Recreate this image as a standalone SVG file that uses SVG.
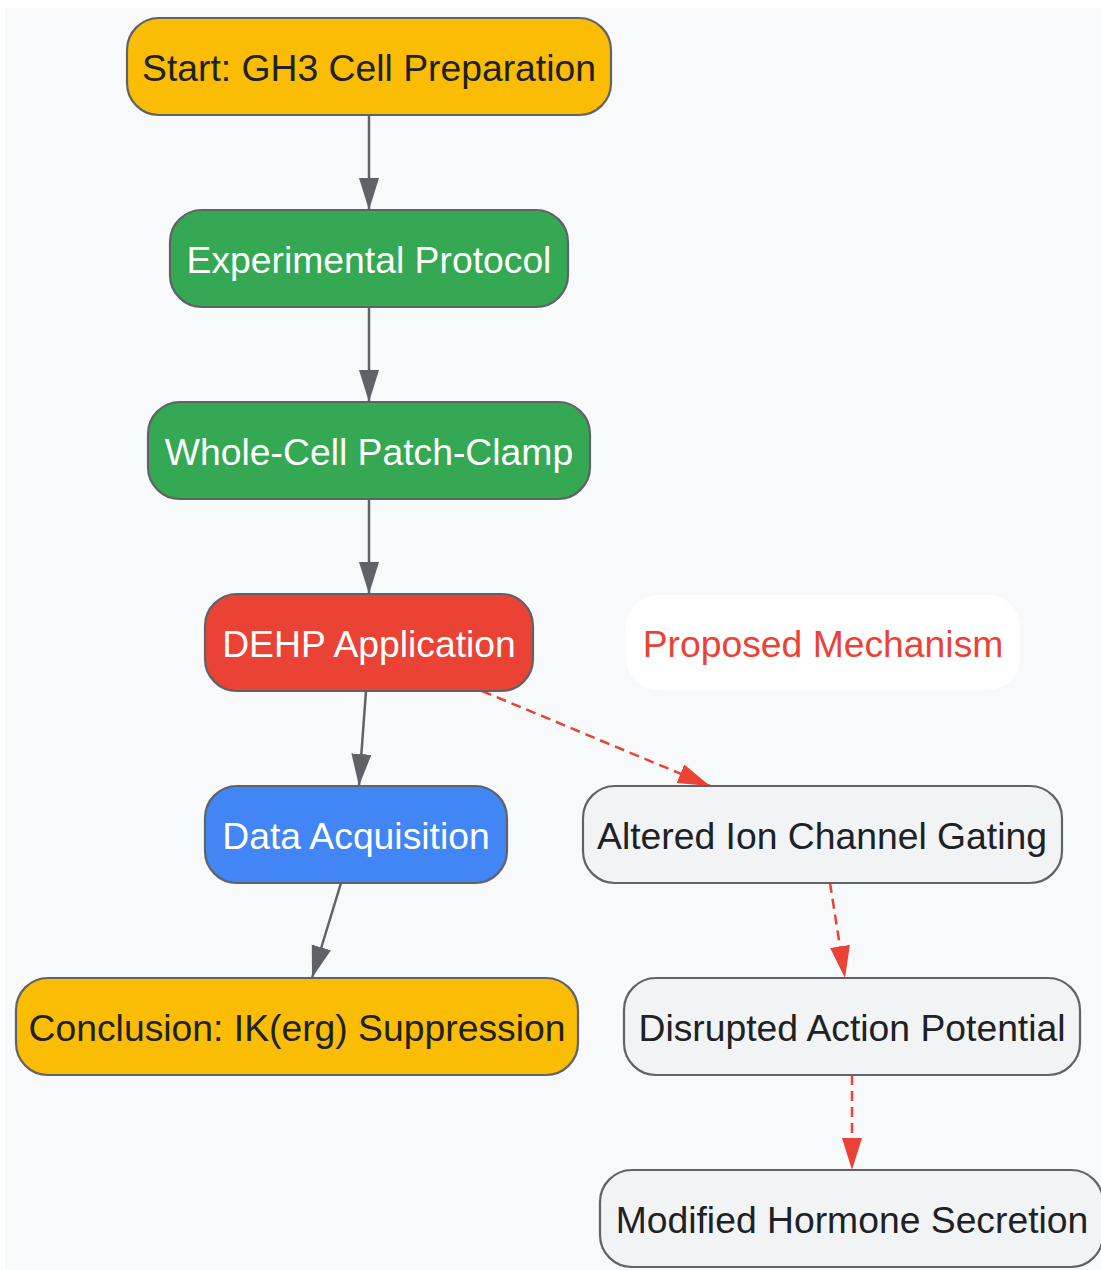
<svg xmlns="http://www.w3.org/2000/svg" width="1101" height="1270" viewBox="0 0 1101 1270">
<style>
.n{stroke:#5F6368;stroke-width:2.2}
.t{font-family:"Liberation Sans",Arial,sans-serif;font-size:37.3px;text-anchor:middle}
.dk{fill:#202124}
.wt{fill:#FFFFFF}
.e{fill:none;stroke:#5F6368;stroke-width:2.5}
.d{fill:none;stroke:#EA4335;stroke-width:2.5;stroke-dasharray:10,6}
</style>
<defs>
<marker id="ag" markerUnits="userSpaceOnUse" markerWidth="34" markerHeight="22" refX="32" refY="10" orient="auto"><path d="M0,0 L32,10 L0,20 z" fill="#5F6368"/></marker>
<marker id="ar" markerUnits="userSpaceOnUse" markerWidth="34" markerHeight="22" refX="32" refY="10" orient="auto"><path d="M0,0 L32,10 L0,20 z" fill="#EA4335"/></marker>
</defs>
<rect x="5" y="8" width="1096" height="1262" fill="#F8F9FA"/>
<g id="connectors">
<line class="e" x1="369" y1="115" x2="369" y2="210" marker-end="url(#ag)"/>
<line class="e" x1="369" y1="307" x2="369" y2="402" marker-end="url(#ag)"/>
<line class="e" x1="369" y1="499" x2="369" y2="594" marker-end="url(#ag)"/>
<line class="e" x1="366" y1="691" x2="359" y2="786" marker-end="url(#ag)"/>
<line class="e" x1="341" y1="883" x2="312" y2="978" marker-end="url(#ag)"/>
<line class="d" x1="482" y1="691" x2="710" y2="786" marker-end="url(#ar)"/>
<line class="d" x1="830" y1="883" x2="845" y2="978" marker-end="url(#ar)"/>
<line class="d" x1="852" y1="1075" x2="852" y2="1170" marker-end="url(#ar)"/>
</g>
<g id="start"><rect class="n" x="127" y="18" width="484" height="97" rx="32" fill="#FBBC04"/><text class="t dk" x="369" y="81">Start: GH3 Cell Preparation</text></g>
<g id="protocol"><rect class="n" x="170" y="210" width="398" height="97" rx="32" fill="#34A853"/><text class="t wt" x="369" y="273">Experimental Protocol</text></g>
<g id="patch"><rect class="n" x="148" y="402" width="442" height="97" rx="32" fill="#34A853"/><text class="t wt" x="369" y="465">Whole-Cell Patch-Clamp</text></g>
<g id="dehp"><rect class="n" x="205" y="594" width="328" height="97" rx="32" fill="#EA4335"/><text class="t wt" x="369" y="657">DEHP Application</text></g>
<g id="mechanism"><rect x="626" y="595" width="394" height="95" rx="32" fill="#FFFFFF"/><text class="t" fill="#EA4335" x="823" y="657">Proposed Mechanism</text></g>
<g id="acquisition"><rect class="n" x="205" y="786" width="302" height="97" rx="32" fill="#4285F4"/><text class="t wt" x="356" y="849">Data Acquisition</text></g>
<g id="gating"><rect class="n" x="583" y="786" width="479" height="97" rx="32" fill="#F1F3F4"/><text class="t dk" x="822" y="849">Altered Ion Channel Gating</text></g>
<g id="conclusion"><rect class="n" x="16" y="978" width="562" height="97" rx="32" fill="#FBBC04"/><text class="t dk" x="297" y="1041">Conclusion: IK(erg) Suppression</text></g>
<g id="action"><rect class="n" x="624" y="978" width="456" height="97" rx="32" fill="#F1F3F4"/><text class="t dk" x="852" y="1041">Disrupted Action Potential</text></g>
<g id="hormone"><rect class="n" x="600" y="1170" width="503" height="97" rx="32" fill="#F1F3F4"/><text class="t dk" x="852" y="1233">Modified Hormone Secretion</text></g>
</svg>
